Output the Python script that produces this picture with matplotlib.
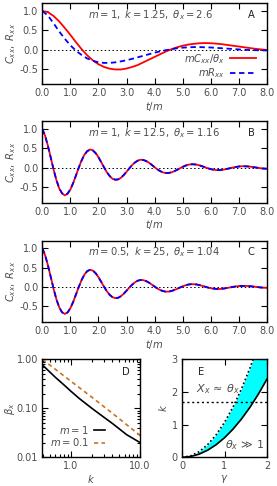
import numpy as np
import matplotlib
matplotlib.use('Agg')
import matplotlib.pyplot as plt
from matplotlib.ticker import FixedLocator, NullFormatter, LogLocator

# panel A, t/m from 0 to 8 in steps of 0.2
t_a = [0.0, 0.2, 0.4, 0.6, 0.8, 1.0, 1.2, 1.4, 1.6, 1.8, 2.0, 2.2, 2.4, 2.6, 2.8, 3.0,
       3.2, 3.4, 3.6, 3.8, 4.0, 4.2, 4.4, 4.6, 4.8, 5.0, 5.2, 5.4, 5.6, 5.8, 6.0,
       6.2, 6.4, 6.6, 6.8, 7.0, 7.2, 7.4, 7.6, 7.8, 8.0]
cxx_a = [1.00, 0.97, 0.87, 0.73, 0.56, 0.38, 0.19, 0.01, -0.15, -0.28, -0.38, -0.45,
         -0.495, -0.515, -0.515, -0.49, -0.45, -0.40, -0.33, -0.26, -0.19, -0.12,
         -0.05, 0.01, 0.06, 0.10, 0.13, 0.15, 0.165, 0.17, 0.165, 0.155, 0.14,
         0.12, 0.10, 0.08, 0.06, 0.04, 0.02, 0.005, -0.01]
rxx_a = [1.00, 0.88, 0.68, 0.47, 0.28, 0.11, -0.03, -0.14, -0.23, -0.29, -0.33,
         -0.345, -0.345, -0.33, -0.305, -0.275, -0.24, -0.20, -0.16, -0.12, -0.08,
         -0.045, -0.015, 0.01, 0.035, 0.05, 0.06, 0.065, 0.065, 0.06, 0.055, 0.045,
         0.035, 0.025, 0.015, 0.005, -0.005, -0.01, -0.015, -0.02, -0.02]

# panels B and C, t/m from 0 to 8 in steps of 0.1
t_bc = [round(0.1 * i, 1) for i in range(81)]
cxx_b = [1.000, 0.819, 0.561, 0.260, -0.045, -0.319, -0.531, -0.665, -0.712, -0.673,
         -0.560, -0.393, -0.194, 0.009, 0.194, 0.340, 0.435, 0.472, 0.452, 0.381,
         0.273, 0.143, 0.008, -0.117, -0.217, -0.284, -0.312, -0.303, -0.259, -0.190,
         -0.104, -0.014, 0.070, 0.138, 0.186, 0.207, 0.203, 0.176, 0.131, 0.076,
         0.016, -0.041, -0.088, -0.120, -0.136, -0.136, -0.119, -0.091, -0.054, -0.015,
         0.023, 0.055, 0.078, 0.090, 0.091, 0.081, 0.063, 0.039, 0.012, -0.013,
         -0.035, -0.050, -0.059, -0.061, -0.055, -0.043, -0.027, -0.010, 0.007, 0.022,
         0.033, 0.039, 0.040, 0.036, 0.030, 0.019, 0.008, -0.003, -0.014, -0.021,
         -0.025]
# R_xx lies on top of C_xx/theta_x in panel B
rxx_b = [1.000, 0.816, 0.555, 0.255, -0.046, -0.316, -0.524, -0.655, -0.700, -0.662,
         -0.552, -0.388, -0.192, 0.008, 0.190, 0.334, 0.427, 0.464, 0.444, 0.375,
         0.269, 0.141, 0.008, -0.115, -0.213, -0.279, -0.306, -0.297, -0.254, -0.187,
         -0.102, -0.014, 0.068, 0.135, 0.182, 0.203, 0.199, 0.172, 0.128, 0.074,
         0.016, -0.040, -0.086, -0.117, -0.133, -0.133, -0.116, -0.089, -0.053, -0.015,
         0.022, 0.054, 0.076, 0.088, 0.089, 0.079, 0.061, 0.038, 0.012, -0.013,
         -0.034, -0.049, -0.058, -0.060, -0.054, -0.042, -0.026, -0.010, 0.007, 0.021,
         0.032, 0.038, 0.039, 0.035, 0.029, 0.019, 0.008, -0.003, -0.014, -0.021,
         -0.025]
cxx_c = [1.000, 0.816, 0.557, 0.257, -0.044, -0.314, -0.520, -0.649, -0.692, -0.652,
         -0.541, -0.378, -0.186, 0.009, 0.185, 0.323, 0.412, 0.445, 0.424, 0.357,
         0.254, 0.133, 0.007, -0.108, -0.199, -0.260, -0.285, -0.276, -0.235, -0.172,
         -0.094, -0.013, 0.063, 0.123, 0.165, 0.183, 0.179, 0.155, 0.115, 0.066,
         0.014, -0.036, -0.076, -0.103, -0.117, -0.116, -0.101, -0.077, -0.046, -0.013,
         0.019, 0.046, 0.065, 0.075, 0.075, 0.067, 0.052, 0.032, 0.010, -0.011,
         -0.028, -0.040, -0.047, -0.049, -0.044, -0.034, -0.021, -0.008, 0.006, 0.017,
         0.026, 0.030, 0.031, 0.028, 0.023, 0.015, 0.006, -0.002, -0.011, -0.016,
         -0.019]
rxx_c = list(cxx_c)

# panel D
k_d1 = [0.39, 0.6, 0.8, 1.0, 1.32, 2.0, 3.0, 4.0, 6.4, 10.0]
beta_m1 = [0.77, 0.43, 0.30, 0.225, 0.16, 0.101, 0.066, 0.049, 0.029, 0.020]
k_d2 = [0.39, 1.0, 2.0, 4.0, 10.0]
beta_m01 = [1.0, 0.36, 0.17, 0.079, 0.028]

# panel E
gam = [0.0, 0.2, 0.4, 0.6, 0.8, 1.0, 1.2, 1.4, 1.6, 1.8, 2.0]
k_low = [0.0, 0.024, 0.096, 0.216, 0.384, 0.6, 0.864, 1.176, 1.536, 1.944, 2.4]
k_high = [0.0, 0.043, 0.171, 0.385, 0.685, 1.07, 1.54, 2.10, 2.74, 3.47, 4.28]
k_line = 1.68

gray = '#4d4d4d'
fs = 7.2


def style_axes(ax):
    ax.tick_params(which='both', direction='in', top=True, right=True,
                   labelsize=7, labelcolor=gray, width=0.8, pad=3)
    ax.tick_params(which='major', length=4)
    ax.tick_params(which='minor', length=2)
    for s in ax.spines.values():
        s.set_linewidth(1.0)


def corr_panel(ax, t, c, r, note, letter, legend=False):
    ax.axhline(0, color='k', lw=0.7, ls=(0, (1.5, 2.5)), zorder=1)
    ax.plot(t, c, color='#ff0000', lw=1.3, label=r'$mC_{xx}/\theta_x$')
    ax.plot(t, r, color='#0000ff', lw=1.3, ls=(0, (3, 2)), label=r'$mR_{xx}$')
    ax.set_xlim(0, 8)
    ax.set_ylim(-0.9, 1.2)
    ax.set_xticks(np.arange(0, 9, 1))
    ax.set_xticklabels(['%.1f' % v for v in range(9)])
    ax.set_yticks([-0.5, 0, 0.5, 1.0])
    ax.set_yticklabels(['-0.5', '0.0', '0.5', '1.0'])
    ax.set_xlabel(r'$t/m$', fontsize=fs, color=gray, labelpad=1)
    ax.set_ylabel(r'$C_{xx},\ R_{xx}$', fontsize=fs, color=gray, labelpad=1)
    ax.text(0.205, 0.86, note, transform=ax.transAxes, fontsize=fs, color=gray, va='center')
    ax.text(0.915, 0.86, letter, transform=ax.transAxes, fontsize=fs, color='#222222',
            va='center')
    style_axes(ax)
    if legend:
        ax.legend(loc='center right', bbox_to_anchor=(0.975, 0.226), frameon=False,
                  markerfirst=False, fontsize=fs, handlelength=2.6, labelspacing=0.05,
                  borderpad=0.0, handletextpad=0.5, labelcolor=gray)


def main():
    fig = plt.figure(figsize=(2.77, 4.86), dpi=100)

    ax_a = fig.add_axes([0.153, 0.8265, 0.810, 0.1667])
    corr_panel(ax_a, t_a, cxx_a, rxx_a, r'$m=1,\ k=1.25,\ \theta_x=2.6$', 'A', legend=True)

    ax_b = fig.add_axes([0.153, 0.583, 0.810, 0.1675])
    corr_panel(ax_b, t_bc, cxx_b, rxx_b, r'$m=1,\ k=12.5,\ \theta_x=1.16$', 'B')

    ax_c = fig.add_axes([0.153, 0.3374, 0.810, 0.1677])
    corr_panel(ax_c, t_bc, cxx_c, rxx_c, r'$m=0.5,\ k=25,\ \theta_x=1.04$', 'C')

    # panel D
    ax_d = fig.add_axes([0.153, 0.059, 0.3527, 0.2016])
    ax_d.plot(k_d1, beta_m1, color='k', lw=1.2, label=r'$m=1$')
    ax_d.plot(k_d2, beta_m01, color='#c8741e', lw=1.2, ls=(0, (2.5, 2)), label=r'$m=0.1$')
    ax_d.set_xscale('log')
    ax_d.set_yscale('log')
    ax_d.set_xlim(0.39, 10)
    ax_d.set_ylim(0.01, 1.0)
    ax_d.xaxis.set_major_locator(FixedLocator([1, 10]))
    ax_d.set_xticklabels(['1.0', '10.0'])
    ax_d.xaxis.set_minor_locator(LogLocator(base=10, subs=np.arange(2, 10)))
    ax_d.xaxis.set_minor_formatter(NullFormatter())
    ax_d.yaxis.set_major_locator(FixedLocator([0.01, 0.1, 1.0]))
    ax_d.set_yticklabels(['0.01', '0.10', '1.00'])
    ax_d.yaxis.set_minor_locator(LogLocator(base=10, subs=np.arange(2, 10)))
    ax_d.yaxis.set_minor_formatter(NullFormatter())
    ax_d.set_xlabel(r'$k$', fontsize=fs, color=gray, labelpad=1)
    ax_d.set_ylabel(r'$\beta_x$', fontsize=fs, color=gray, labelpad=0)
    ax_d.text(0.85, 0.87, 'D', transform=ax_d.transAxes, fontsize=fs, color='#222222',
              va='center', ha='center')
    ax_d.legend(loc='center right', bbox_to_anchor=(0.69, 0.22), frameon=False,
                markerfirst=False, fontsize=fs, handlelength=1.1, labelspacing=0.05,
                borderpad=0.0, handletextpad=0.5, labelcolor=gray)
    style_axes(ax_d)

    # panel E
    ax_e = fig.add_axes([0.657, 0.059, 0.307, 0.2016])
    ax_e.fill_between(gam, k_low, k_high, color='#00ffff', lw=0)
    ax_e.plot(gam, k_low, color='k', lw=1.2)
    ax_e.plot(gam, k_high, color='k', lw=1.2, ls=(0, (1, 1.5)))
    ax_e.axhline(k_line, color='k', lw=1.0, ls=(0, (1.5, 2)))
    ax_e.set_xlim(0, 2)
    ax_e.set_ylim(0, 3)
    ax_e.set_xticks([0, 1, 2])
    ax_e.set_yticks([0, 1, 2, 3])
    ax_e.set_xlabel(r'$\gamma$', fontsize=fs, color=gray, labelpad=1)
    ax_e.set_ylabel(r'$k$', fontsize=fs, color=gray, labelpad=2)
    ax_e.text(0.38, 2.62, 'E', fontsize=fs, color='#222222', va='center')
    ax_e.text(0.33, 2.08, r'$X_x\,\approx\,\theta_x$', fontsize=8, color=gray,
              va='center', zorder=5)
    ax_e.text(1.02, 0.38, r'$\theta_x\,\gg\,1$', fontsize=8, color=gray,
              va='center', zorder=5)
    style_axes(ax_e)

    fig.savefig('out.png', dpi=100)


if __name__ == '__main__':
    main()
